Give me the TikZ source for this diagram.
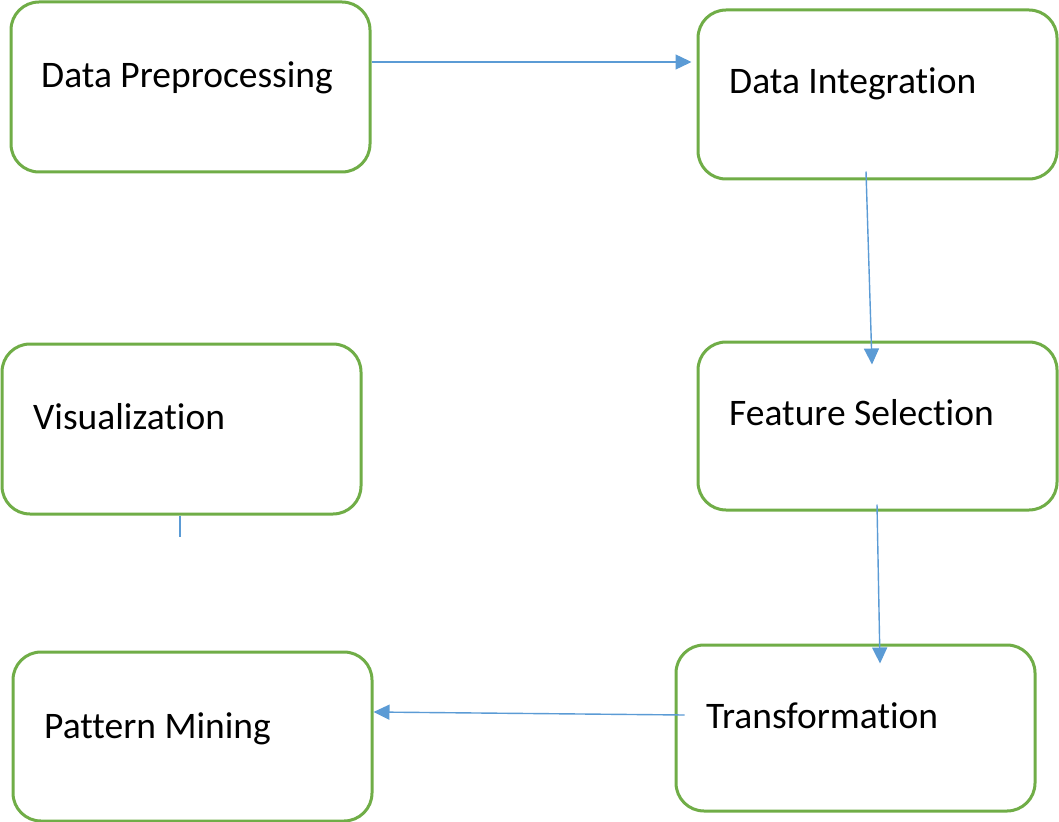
\documentclass[tikz,border=0pt]{standalone}
\usepackage{fontspec}
\setmainfont{Carlito}[Ligatures={NoCommon}]
\usetikzlibrary{arrows.meta,calc}
\definecolor{boxgreen}{HTML}{70AD47}
\definecolor{arrblue}{HTML}{5B9BD5}
\tikzset{
  procbox/.style={draw=boxgreen, line width=3pt, rounded corners=28pt, fill=white,
    minimum width=359pt, inner sep=0pt},
  lbl/.style={anchor=base west, inner sep=0pt, font=\fontsize{37.5}{45}\selectfont},
  arr/.style={draw=arrblue, line width=1.4pt, -{Triangle[length=16pt,width=15pt]}},
  plain/.style={draw=arrblue, line width=1.4pt}
}
\begin{document}
\begin{tikzpicture}[x=1pt,y=-1pt]
\useasboundingbox (0,0) rectangle (1059,821);
% boxes
\node[procbox, minimum height=170pt] (b1) at (190.5,87) {};
\node[procbox, minimum height=169pt] (b2) at (877.5,94.5) {};
\node[procbox, minimum height=168pt] (b3) at (877.5,426) {};
\node[procbox, minimum height=170pt] (b4) at (181.5,429) {};
\node[procbox, minimum height=169pt] (b5) at (192.5,736.5) {};
\node[procbox, minimum height=166pt] (b6) at (855.5,728) {};
% labels
\node[lbl] (t1) at (41,88) {Data Preprocessing};
\node[lbl] (t2) at (729,94) {Data Integration};
\node[lbl] (t3) at (729,425) {Feature Selection};
\node[lbl] (t4) at (33,429) {Visualization};
\node[lbl] (t5) at (44,738) {Pattern Mining};
\node[lbl] (t6) at (706,728) {Transformation};
% connector end points
\coordinate (a1s) at ($(b1.east)+(0,-25)$);
\coordinate (a1e) at ($(b2.west)+(-5,-32.5)$);
\coordinate (a2s) at ($(b2.south)+(-11.5,-9)$);
\coordinate (a2e) at ($(b3.north)+(-5.5,24)$);
\coordinate (a3s) at ($(b3.south)+(-0.5,-7)$);
\coordinate (a3e) at ($(b6.north)+(24.5,20)$);
\coordinate (a4s) at ($(b6.west)+(10,-13)$);
\coordinate (a4e) at ($(b5.east)+(0,-24.5)$);
\coordinate (st1) at ($(b4.south)+(-1.5,0)$);
\coordinate (st2) at ($(b4.south)+(-1.5,21)$);
% connectors
\draw[arr] (a1s) -- (a1e);
\draw[arr] (a2s) -- (a2e);
\draw[arr] (a3s) -- (a3e);
\draw[arr] (a4s) -- (a4e);
\draw[plain] (st1) -- (st2);
\end{tikzpicture}
\end{document}
